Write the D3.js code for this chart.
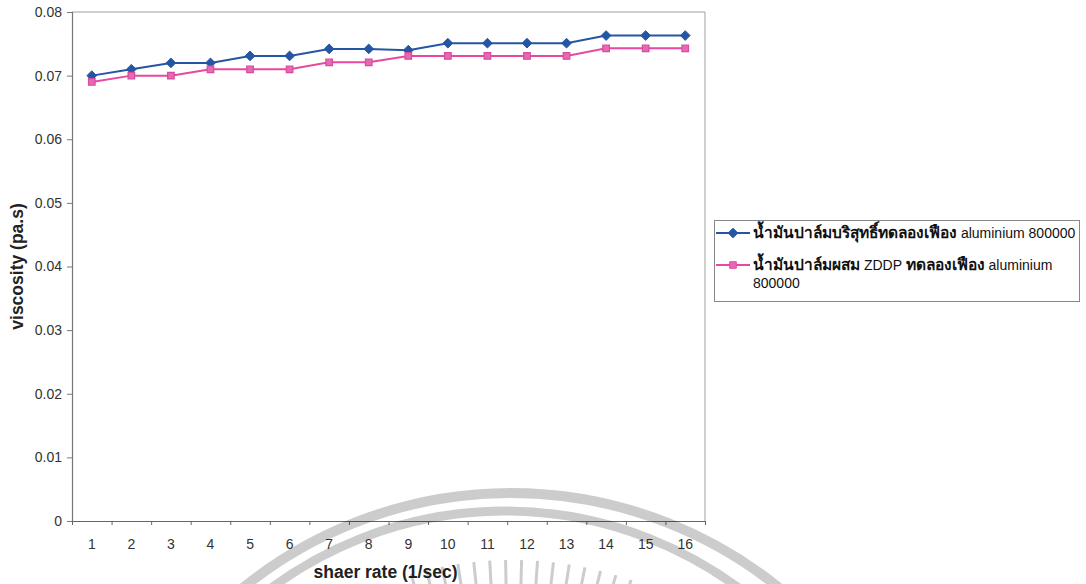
<!DOCTYPE html>
<html>
<head>
<meta charset="utf-8">
<script src="https://cdn.jsdelivr.net/npm/d3@7/dist/d3.min.js"></script>
<style>
  html, body { margin: 0; padding: 0; background: #ffffff; }
  svg { display: block; font-family: "Liberation Sans", Arial, "Noto Sans", sans-serif; }
</style>
</head>
<body>
<svg id="chart" width="1086" height="584"></svg>
<script>
// Shear rate categories (1/sec)
const shearRates = [1, 2, 3, 4, 5, 6, 7, 8, 9, 10, 11, 12, 13, 14, 15, 16];

// Viscosity (pa.s) – pure palm oil
const pureOil = [0.0700, 0.0710, 0.0720, 0.0720, 0.0731, 0.0731, 0.0742, 0.0742,
                 0.0740, 0.0751, 0.0751, 0.0751, 0.0751, 0.0763, 0.0763, 0.0763];

// Viscosity (pa.s) – palm oil blended with ZDDP
const zddpOil = [0.0690, 0.0700, 0.0700, 0.0710, 0.0710, 0.0710, 0.0721, 0.0721,
                 0.0731, 0.0731, 0.0731, 0.0731, 0.0731, 0.0743, 0.0743, 0.0743];

const yTickValues = [0, 0.01, 0.02, 0.03, 0.04, 0.05, 0.06, 0.07, 0.08];

const seriesNames = [
  [{t: "น้ำมันปาล์มบริสุทธิ์ทดลองเฟือง", th: true}, {t: " aluminium 800000", th: false}],
  [{t: "น้ำมันปาล์มผสม", th: true}, {t: " ZDDP ", th: false}, {t: "ทดลองเฟือง", th: true}, {t: " aluminium", th: false}]
];
const seriesNameWrap = "800000";

const xTitle = "shaer rate (1/sec)";
const yTitle = "viscosity (pa.s)";

const svg = d3.select("#chart");
const plot = {left: 72, right: 705, top: 12, bottom: 521};

const x = d3.scaleBand().domain(shearRates).range([plot.left, plot.right]);
const xEdges = d3.scaleLinear().domain([0, shearRates.length]).range([plot.left, plot.right]);
const y = d3.scaleLinear().domain([0, 0.08]).range([plot.bottom, plot.top]);

// plot frame (top and right edges)
svg.append("path")
  .attr("d", `M${plot.left},${plot.top}H${plot.right}V${plot.bottom}`)
  .attr("fill", "none").attr("stroke", "#a0a0a0").attr("stroke-width", 1);

// y axis
const yAxis = svg.append("g")
  .attr("transform", `translate(${plot.left},0)`)
  .call(d3.axisLeft(y).tickValues(yTickValues).tickSize(5).tickPadding(5)
    .tickFormat(d => d === 0 ? "0" : d.toFixed(2)));
yAxis.select(".domain").attr("stroke", "#777").attr("stroke-width", 1.2);
yAxis.selectAll(".tick line").attr("stroke", "#777");
yAxis.selectAll("text").attr("font-size", 14).attr("fill", "#333")
  .attr("font-family", "Liberation Sans, Arial, sans-serif");

// x axis: tick marks between categories
const xTicks = svg.append("g")
  .attr("transform", `translate(0,${plot.bottom})`)
  .call(d3.axisBottom(xEdges).tickValues(d3.range(0, shearRates.length + 1))
    .tickSize(4).tickSizeOuter(0).tickFormat(""));
xTicks.select(".domain").attr("stroke", "#666").attr("stroke-width", 1.2);
xTicks.selectAll(".tick line").attr("stroke", "#666");

// x axis: category labels
const xLabels = svg.append("g")
  .attr("transform", `translate(0,${plot.bottom})`)
  .call(d3.axisBottom(x).tickSize(0).tickPadding(18));
xLabels.select(".domain").remove();
xLabels.selectAll("text").attr("font-size", 14).attr("fill", "#333")
  .attr("font-family", "Liberation Sans, Arial, sans-serif");

// axis titles
svg.append("text")
  .attr("x", (plot.left + plot.right) / 2 - 3).attr("y", 578)
  .attr("text-anchor", "middle").attr("font-size", 17.5).attr("font-weight", "bold")
  .attr("fill", "#222").text(xTitle);
svg.append("text")
  .attr("transform", `translate(23,${(plot.top + plot.bottom) / 2}) rotate(-90)`)
  .attr("text-anchor", "middle").attr("font-size", 17.5).attr("font-weight", "bold")
  .attr("fill", "#222").text(yTitle);

// series
const cx = d => x(d) + x.bandwidth() / 2;
const line = d3.line().x((d, i) => cx(shearRates[i])).y(d => y(d));

const blue = "#2456a4", pink = "#e8489f";

svg.append("path").datum(pureOil).attr("d", line)
  .attr("fill", "none").attr("stroke", blue).attr("stroke-width", 2);
svg.append("path").datum(zddpOil).attr("d", line)
  .attr("fill", "none").attr("stroke", pink).attr("stroke-width", 2);

const diamond = d3.symbol().type(d3.symbolDiamond2).size(60);
const square = d3.symbol().type(d3.symbolSquare2).size(55);

svg.append("g").selectAll("path").data(pureOil).join("path")
  .attr("transform", (d, i) => `translate(${cx(shearRates[i])},${y(d)})`)
  .attr("d", diamond).attr("fill", blue).attr("stroke", blue).attr("stroke-width", 1);
svg.append("g").selectAll("path").data(zddpOil).join("path")
  .attr("transform", (d, i) => `translate(${cx(shearRates[i])},${y(d)})`)
  .attr("d", square).attr("fill", "#e56ab4").attr("stroke", "#d94a9c").attr("stroke-width", 1.2);

// legend
const lg = svg.append("g");
lg.append("rect").attr("x", 714.5).attr("y", 220.5).attr("width", 365).attr("height", 81)
  .attr("fill", "#fff").attr("stroke", "#888").attr("stroke-width", 1);

const legendRows = [
  {y: 233, color: blue, marker: diamond, fill: blue},
  {y: 265, color: pink, marker: square, fill: "#e56ab4"}
];
legendRows.forEach((r, i) => {
  lg.append("line").attr("x1", 716).attr("x2", 750).attr("y1", r.y).attr("y2", r.y)
    .attr("stroke", r.color).attr("stroke-width", 2);
  lg.append("path").attr("transform", `translate(733,${r.y})`).attr("d", r.marker)
    .attr("fill", r.fill).attr("stroke", r.color);
  const t = lg.append("text").attr("x", 753).attr("y", r.y + 5).attr("fill", "#111");
  seriesNames[i].forEach(p => {
    t.append("tspan")
      .attr("font-weight", p.th ? "bold" : "normal")
      .attr("font-size", p.th ? 15.5 : 14)
      .text(p.t);
  });
});
lg.append("text").attr("x", 753).attr("y", 288).attr("font-size", 14)
  .attr("fill", "#111").text(seriesNameWrap);

// translucent seal printed across the lower part of the page
const seal = svg.append("g").attr("pointer-events", "none");
seal.append("circle").attr("cx", 511).attr("cy", 919).attr("r", 426)
  .attr("fill", "none").attr("stroke", "#000").attr("stroke-opacity", 0.2).attr("stroke-width", 10);
seal.append("circle").attr("cx", 505).attr("cy", 904).attr("r", 393)
  .attr("fill", "none").attr("stroke", "#000").attr("stroke-opacity", 0.2).attr("stroke-width", 9);
const rayAngles = d3.range(-16, 21.5, 2.5);
seal.selectAll("line.ray").data(rayAngles).join("line").attr("class", "ray")
  .attr("x1", a => 512 + 366 * Math.sin(a * Math.PI / 180))
  .attr("y1", a => 926 - 366 * Math.cos(a * Math.PI / 180))
  .attr("x2", a => 512 + 320 * Math.sin(a * Math.PI / 180))
  .attr("y2", a => 926 - 320 * Math.cos(a * Math.PI / 180))
  .attr("stroke", "#000").attr("stroke-opacity", 0.2).attr("stroke-width", 3);
</script>
</body>
</html>
